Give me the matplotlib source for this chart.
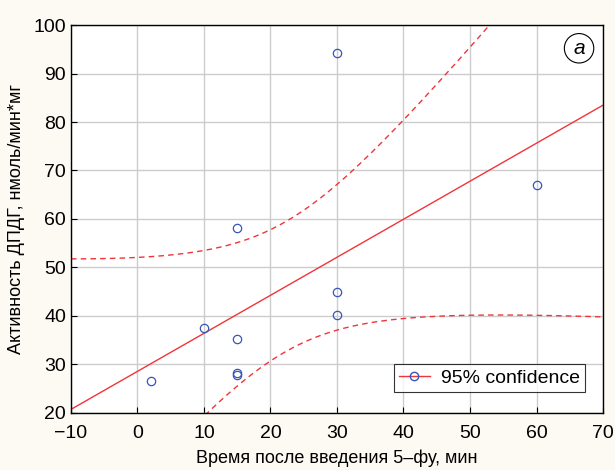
import numpy as np
import matplotlib
matplotlib.use('Agg')
import matplotlib.pyplot as plt
from matplotlib.lines import Line2D

plt.rcParams['font.family'] = ['Liberation Sans Narrow', 'Liberation Sans', 'DejaVu Sans']

# data
time_min = [2, 10, 15, 15, 15, 15, 30, 30, 30, 60]
activity = [26.5, 37.5, 35.2, 28.3, 27.8, 58.2, 94.2, 45.0, 40.2, 67.0]
x_ticks = [-10, 0, 10, 20, 30, 40, 50, 60, 70]
y_ticks = [20, 30, 40, 50, 60, 70, 80, 90, 100]
t_crit = 2.306  # t(0.975, df=8)

x = np.array(time_min, dtype=float)
y = np.array(activity, dtype=float)
n = len(x)
slope, icpt = np.polyfit(x, y, 1)
resid = y - (slope * x + icpt)
s = np.sqrt(np.sum(resid**2) / (n - 2))
sxx = np.sum((x - x.mean())**2)

xx = np.linspace(-10, 70, 300)
yy = slope * xx + icpt
half = t_crit * s * np.sqrt(1.0 / n + (xx - x.mean())**2 / sxx)

red = '#f0353a'
blue = '#3b55b5'

fig = plt.figure(figsize=(6.15, 4.7), dpi=100, facecolor='#fdfaf3')
ax = fig.add_axes([0.1154, 0.1213, 0.8651, 0.8255])
ax.set_facecolor('white')

ax.plot(xx, yy, color=red, lw=1.0)
ax.plot(xx, yy + half, color=red, lw=1.0, ls=(0, (4, 3)))
ax.plot(xx, yy - half, color=red, lw=1.0, ls=(0, (4, 3)))
ax.plot(x, y, 'o', mfc='none', mec=blue, ms=6, mew=0.9, zorder=5)

ax.set_xlim(-10, 70)
ax.set_ylim(20, 100)
ax.set_xticks(x_ticks)
ax.set_yticks(y_ticks)
ax.grid(True, color='#cccccc', lw=1.0)
ax.set_axisbelow(True)
ax.tick_params(direction='in', length=4, labelsize=14, color='black')
ax.tick_params(axis='x', pad=9)
for sp in ax.spines.values():
    sp.set_color('black')
    sp.set_linewidth(1.0)

ax.set_xlabel('Время после введения 5–фу, мин', fontsize=13, labelpad=5)
ax.set_ylabel('Активность ДПДГ, нмоль/мин*мг', fontsize=13, labelpad=6)

handle = (Line2D([0], [0], color=red, lw=1.0),
          Line2D([0], [0], marker='o', ls='none', mfc='none', mec=blue, ms=6))
leg = ax.legend([handle], ['95% confidence'], loc='lower right',
                bbox_to_anchor=(0.985, 0.03), fontsize=14, frameon=True,
                fancybox=False, handlelength=1.6, borderpad=0.25,
                handletextpad=0.6)
leg.get_frame().set_edgecolor('black')
leg.get_frame().set_linewidth(0.8)

ax.text(0.955, 0.94, 'a', transform=ax.transAxes, fontsize=15, style='italic',
        ha='center', va='center',
        bbox=dict(boxstyle='circle,pad=0.25', fc='white', ec='black', lw=0.8))

fig.savefig('out.png', dpi=100, facecolor=fig.get_facecolor())
